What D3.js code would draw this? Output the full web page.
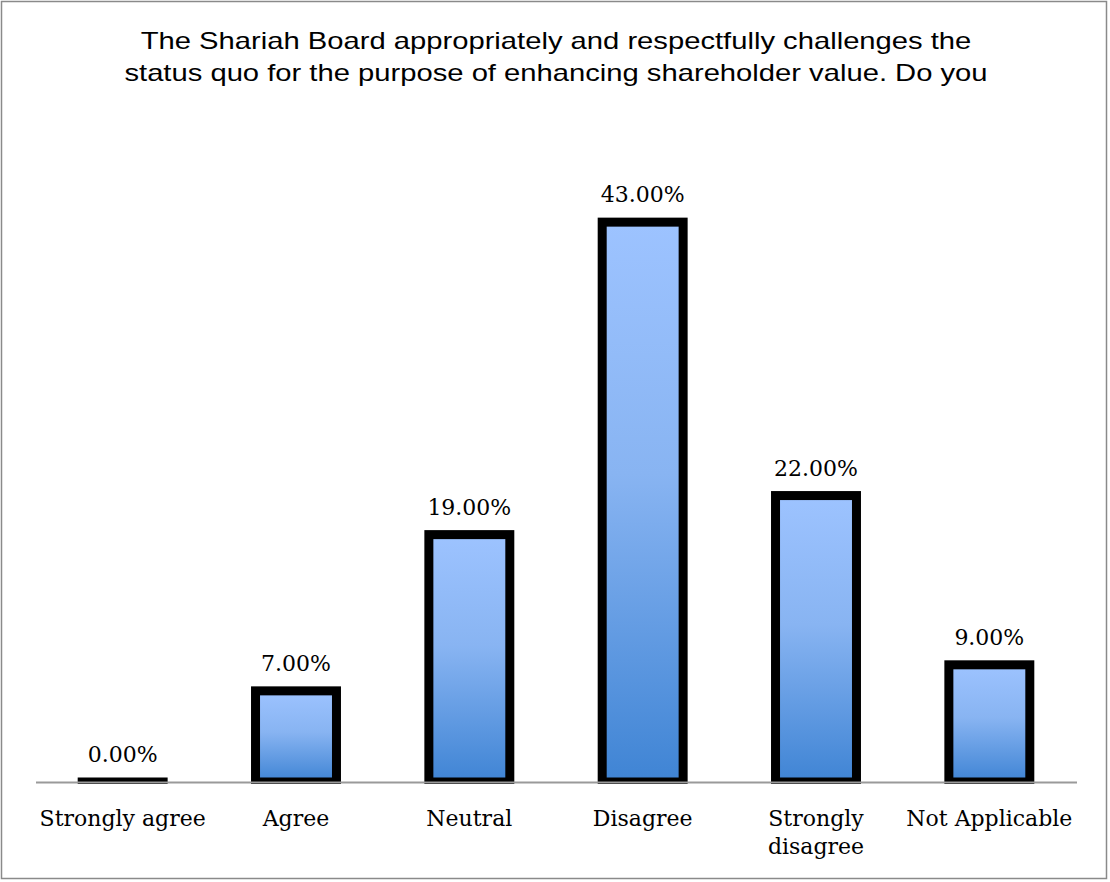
<!DOCTYPE html>
<html>
<head>
<meta charset="utf-8">
<script src="https://cdn.jsdelivr.net/npm/d3@7"></script>
<style>
  html, body { margin: 0; padding: 0; background: #fff; }
  svg { display: block; }
</style>
</head>
<body>
<svg id="chart" width="1110" height="882"></svg>
<script>
// Survey responses (percent of respondents)
const categories = ["Strongly agree", "Agree", "Neutral", "Disagree", "Strongly disagree", "Not Applicable"];
const values = [0, 7, 19, 43, 22, 9];
const titleLines = [
  "The Shariah Board appropriately and respectfully challenges the",
  "status quo for the purpose of enhancing shareholder value. Do you"
];

const W = 1110, H = 882;
const svg = d3.select("#chart");

// outer chart frame
svg.append("rect")
  .attr("x", 1.5).attr("y", 1.5)
  .attr("width", 1105).attr("height", 877)
  .attr("fill", "#fff").attr("stroke", "#8a8a8a").attr("stroke-width", 1.5);

// title (set in a wide, horizontally stretched sans face)
svg.append("g")
  .attr("transform", "translate(556,0) scale(1.27,1)")
  .append("text")
  .attr("x", 0).attr("y", 49)
  .attr("text-anchor", "middle")
  .attr("font-family", "'Liberation Sans', Arial, sans-serif")
  .attr("font-size", 23)
  .attr("fill", "#000")
  .selectAll("tspan")
  .data(titleLines)
  .join("tspan")
  .attr("x", 0)
  .attr("dy", (d, i) => i === 0 ? 0 : 32)
  .text(d => d);

const plot = { left: 36, right: 1076, top: 131, bottom: 782 };

const x = d3.scaleBand()
  .domain(categories)
  .range([plot.left, plot.right])
  .padding(0);

const y = d3.scaleLinear()
  .domain([0, 50])
  .range([plot.bottom, plot.top]);

const defs = svg.append("defs");
const grad = defs.append("linearGradient")
  .attr("id", "barGrad")
  .attr("x1", 0).attr("y1", 0).attr("x2", 0).attr("y2", 1);
grad.append("stop").attr("offset", "0%").attr("stop-color", "#9dc3ff");
grad.append("stop").attr("offset", "45%").attr("stop-color", "#88b4f2");
grad.append("stop").attr("offset", "100%").attr("stop-color", "#3f84d4");

defs.append("clipPath").attr("id", "plotClip")
  .append("rect")
  .attr("x", 0).attr("y", 0)
  .attr("width", W).attr("height", plot.bottom + 2);

const barW = x.step() * 0.467;

// bars; a zero value still shows its outline sitting on the axis
const g = svg.append("g").attr("clip-path", "url(#plotClip)");
g.selectAll("rect.bar")
  .data(values)
  .join("rect")
  .attr("class", "bar")
  .attr("x", (d, i) => x(categories[i]) + (x.bandwidth() - barW) / 2)
  .attr("y", d => y(d))
  .attr("width", barW)
  .attr("height", d => Math.max(y(0) - y(d), 0.01))
  .attr("fill", "url(#barGrad)")
  .attr("stroke", "#000")
  .attr("stroke-width", 9);

// category axis line
svg.append("line")
  .attr("x1", plot.left).attr("x2", plot.right + 1)
  .attr("y1", plot.bottom + 0.5).attr("y2", plot.bottom + 0.5)
  .attr("stroke", "#9a9a9a").attr("stroke-width", 2);

const serif = "'DejaVu Serif', Cambria, serif";

// value labels
svg.selectAll("text.val")
  .data(values)
  .join("text")
  .attr("class", "val")
  .attr("x", (d, i) => x(categories[i]) + x.bandwidth() / 2)
  .attr("y", d => y(d) - 20)
  .attr("text-anchor", "middle")
  .attr("font-family", serif)
  .attr("font-size", 22)
  .attr("fill", "#000")
  .text(d => d.toFixed(2) + "%");

// category labels (wrapped to fit the band)
const catLines = { "Strongly disagree": ["Strongly", "disagree"] };
const labels = svg.selectAll("text.cat")
  .data(categories)
  .join("text")
  .attr("class", "cat")
  .attr("x", d => x(d) + x.bandwidth() / 2)
  .attr("y", 826)
  .attr("text-anchor", "middle")
  .attr("font-family", serif)
  .attr("font-size", 22)
  .attr("fill", "#000");
labels.selectAll("tspan")
  .data(d => (catLines[d] || [d]).map(t => ({ t, c: d })))
  .join("tspan")
  .attr("x", d => x(d.c) + x.bandwidth() / 2)
  .attr("dy", (d, i) => i === 0 ? 0 : 28)
  .text(d => d.t);
</script>
</body>
</html>
